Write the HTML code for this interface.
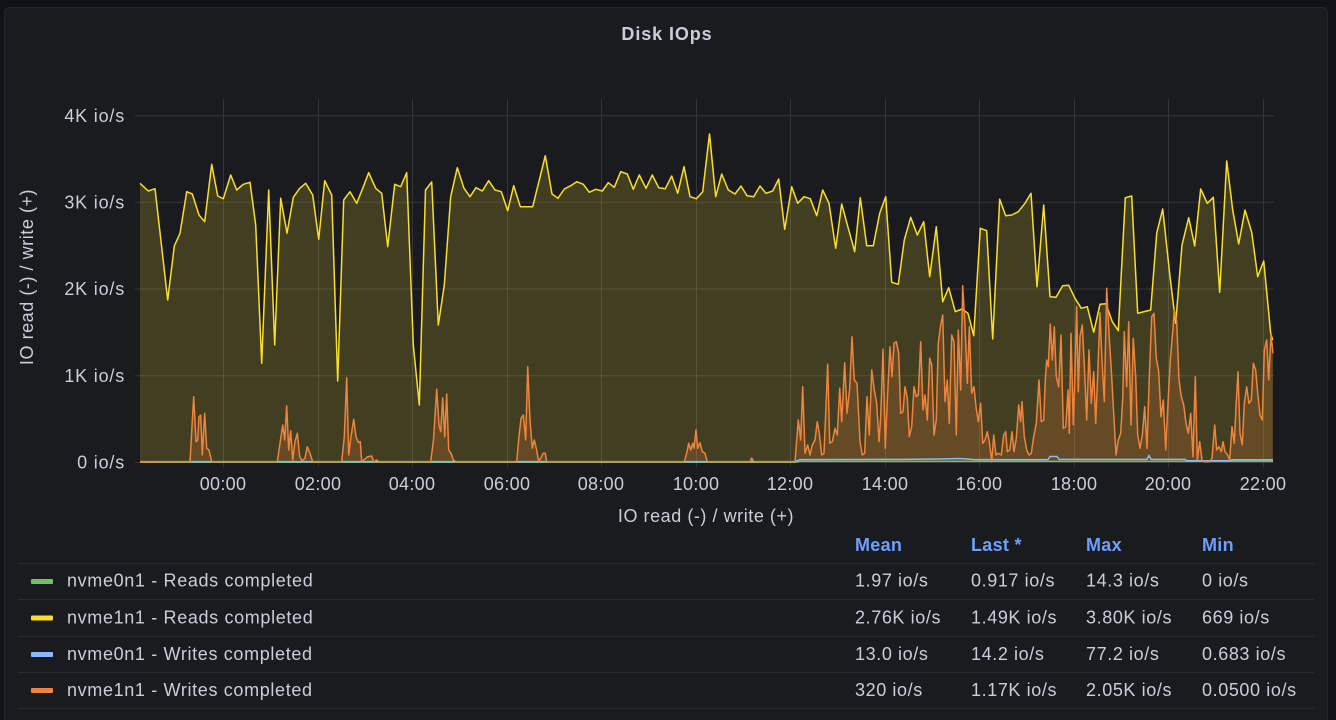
<!DOCTYPE html>
<html><head><meta charset="utf-8"><style>
html,body{margin:0;padding:0;background:#111217;width:1336px;height:720px;overflow:hidden}
svg{display:block}
text{font-family:"Liberation Sans",sans-serif;fill:#ccccdc}
</style></head><body>
<svg width="1336" height="720" viewBox="0 0 1336 720" xmlns="http://www.w3.org/2000/svg">
<rect x="0" y="0" width="1336" height="720" fill="#111217"/>
<rect x="4.5" y="7.5" width="1323" height="730" rx="5" fill="#1a1b1f" stroke="#25262b" stroke-width="1"/>
<text x="667" y="40" text-anchor="middle" font-size="18" font-weight="bold" letter-spacing="0.9">Disk IOps</text>

<!-- grid -->
<g stroke="#35363b" stroke-width="1">
<line x1="135" y1="115.7" x2="1274" y2="115.7"/>
<line x1="135" y1="202.3" x2="1274" y2="202.3"/>
<line x1="135" y1="289" x2="1274" y2="289"/>
<line x1="135" y1="375.8" x2="1274" y2="375.8"/>
<line x1="135" y1="462.5" x2="1274" y2="462.5"/>
<line x1="223.5" y1="99" x2="223.5" y2="467"/>
<line x1="318.5" y1="99" x2="318.5" y2="467"/>
<line x1="412.5" y1="99" x2="412.5" y2="467"/>
<line x1="507.5" y1="99" x2="507.5" y2="467"/>
<line x1="601.5" y1="99" x2="601.5" y2="467"/>
<line x1="696.5" y1="99" x2="696.5" y2="467"/>
<line x1="790.5" y1="99" x2="790.5" y2="467"/>
<line x1="885.5" y1="99" x2="885.5" y2="467"/>
<line x1="979.5" y1="99" x2="979.5" y2="467"/>
<line x1="1074.5" y1="99" x2="1074.5" y2="467"/>
<line x1="1168.5" y1="99" x2="1168.5" y2="467"/>
<line x1="1263.5" y1="99" x2="1263.5" y2="467"/>
</g>

<!-- y tick labels -->
<g font-size="18" text-anchor="end" letter-spacing="0.8">
<text x="125" y="122">4K io/s</text>
<text x="125" y="208.5">3K io/s</text>
<text x="125" y="295">2K io/s</text>
<text x="125" y="382">1K io/s</text>
<text x="125" y="468.5">0 io/s</text>
</g>
<!-- x tick labels -->
<g font-size="18" text-anchor="middle" letter-spacing="0.3">
<text x="223" y="490">00:00</text>
<text x="318" y="490">02:00</text>
<text x="412" y="490">04:00</text>
<text x="507" y="490">06:00</text>
<text x="601" y="490">08:00</text>
<text x="696" y="490">10:00</text>
<text x="790" y="490">12:00</text>
<text x="885" y="490">14:00</text>
<text x="979" y="490">16:00</text>
<text x="1074" y="490">18:00</text>
<text x="1168" y="490">20:00</text>
<text x="1263" y="490">22:00</text>
</g>
<text x="706" y="522" font-size="18" text-anchor="middle" letter-spacing="0.55">IO read (-) / write (+)</text>
<text transform="translate(33,277) rotate(-90)" font-size="18" text-anchor="middle" letter-spacing="0.55">IO read (-) / write (+)</text>

<!-- yellow series -->
<polygon fill="rgba(250,222,42,0.18)" points="140,462 140,183.3 148.3,191 155,188.7 167.7,300 174.3,246 180,233.3 186.7,191.7 192.3,194 199,215 204.7,221.7 211.7,164.3 217.7,196 223.3,198.7 230.7,175 236.7,190 243.3,184.3 250,182.3 255.7,225 261.7,363.3 268.7,190 274.7,345 280.7,198.3 287,233.3 293.3,197.3 299.7,188.3 305.7,183.3 312.7,195 318.7,239.3 324.7,180.7 331.7,195 337.7,381 343.7,200 350,191.7 356.7,203.3 362.7,188.3 368.7,172.7 375.7,188.3 381.7,193.3 387.7,246.7 394.7,184.3 400.7,186.7 406.7,172.7 413.3,345 419.3,405 425.5,190 431.7,182 438.3,325 444.3,285 450.7,196.7 457.3,167.7 464,188.3 470,196.7 476,187.7 482.3,191 488.7,180.7 495,190 501.3,191.7 507.7,210.7 513.7,185.7 520.3,206.7 532.7,206.7 545.3,155.7 552,194 558,198.3 564.3,189 570.7,185.7 576.7,181.7 583.3,184.3 589.3,192.3 595.7,189.3 602.3,191 608.3,182.7 614.3,187.3 620.7,171.7 627.3,174 633.3,189.3 639.3,175 646,188.3 652.3,175 658.7,187.7 665.3,188.7 671.7,176 677.7,193.3 684,166.7 690,196.7 696.3,198.7 702.7,191.7 709.5,134 715.7,196.7 721.7,174 728.3,190 735,194 741,186 747,195.7 753.7,196.7 760,186 766,193.3 772.7,191 778.7,179 784.7,229.3 791.7,186.7 797.7,203.3 804,196.7 810.3,198.7 816.7,215.7 822.7,190 829,203.3 835.7,248.3 841.7,204 848.3,228.3 854.7,251.7 860.3,197.7 866.7,245.7 873.3,245.7 879.7,213.3 885.7,196.7 891.7,282.3 898.3,284.3 904.3,240 910.7,217.3 917.3,235 923.7,221.7 929.7,276.7 936.3,226.7 942.7,301.7 948.7,287.7 955.3,311.7 962,309 968,313.3 973.7,335.7 980.3,228.3 986.7,230.7 992.7,339 999.7,199.3 1005.7,215.7 1011.7,215 1018.3,211.7 1025,203.3 1031,193.3 1037,286.7 1043.7,205 1050,296.7 1056,297.3 1062.7,285.7 1068.7,285.3 1075,298.3 1081.3,308.3 1087.3,306.7 1093.7,332.3 1100,304.3 1106,303.7 1112.3,321.7 1118.3,330.7 1125.3,197.7 1131.7,196 1137.7,313.3 1150.7,310 1156.7,233.3 1162.7,209 1170,276.7 1175.7,323.3 1182,245 1188.7,217.7 1194.7,246 1200.7,189 1207.3,203.3 1213.3,197.3 1219.7,292.3 1226.7,161 1232.7,210 1238.7,244 1245,210 1251.7,232.3 1257.7,276.7 1263.7,261 1270.7,333.3 1272.7,340 1272.7,462"/>

<!-- orange fill -->
<polygon id="ofill" fill="rgba(239,132,60,0.2)" points="140,462 190,461.7 193.7,396.7 196,441.7 197.7,440 199,416.7 200.7,415 202.3,455 204.7,413.3 206.7,448.3 209,450 211.7,461.7 277.3,461.7 280,443.3 282.7,425 284.7,440 286.7,405.7 288.7,450 290.7,430.7 292.7,460 295,441.7 297.3,433.3 299.7,456.7 302.3,460.7 305,458.3 307.3,446.7 310,453.3 312.7,461.7 341.7,461.7 344.3,436.7 346.7,377.7 348.7,455 351,436.7 353.7,419.3 356,436.7 358.3,442.3 360.3,441.7 361.7,461.7 367.7,456.7 371.7,456 373.7,461.7 376.7,460 379,461.7 430.7,461.7 433.5,440 436.7,389.3 439,425 440.7,431.7 442.7,397.7 444.7,436.7 446.7,394 448.7,450 451,453.3 453.3,460 456,461.7 516.7,461.7 519,436.7 521,418.3 523.3,415 525.7,440 527.7,366.7 530,420 532.3,448.3 534.3,440 536.7,450 538.7,461.7 543.3,453.3 545.3,453.3 546.7,461.7 684.3,461.7 686.7,453.3 688.7,443.3 690.7,450 692.7,443.3 694,448.3 696,430 697.7,448.3 700,442.7 702.3,451.7 705,453.3 707.3,461.7 750,461.7 751.7,458 753.5,461.7 795,461.7 798.3,420 800.7,440 802.7,386.7 805,453.3 807.7,445 810,455 812.3,445 815,440 817.3,421.7 819.3,433.3 821.7,455 824,453.3 825.7,413.3 827.7,364.3 829.7,443.3 832.3,441.7 835,428.3 837.3,435 839.7,388.3 841.7,421.7 844.7,362.7 847,413.3 849.7,388.3 852,336.7 854.3,380 857,383.3 860,441.7 862.3,455 864.7,453 867,396.7 869.3,435 871.7,370 874.3,390 876.7,403.3 879,441.7 880.7,416.7 883,349.3 885.3,448.3 887.7,391.7 890,346.7 892,376.7 894,343.3 896.3,341.7 898.7,353.3 900.7,413.3 903,411.7 905,386.7 907.3,398.3 909.3,436.7 911.7,426.7 914,386.7 916.3,396.7 918.3,395 920.7,341.7 923,410 925,395 927.3,420 929.7,358.3 931.7,365 934,435 936.3,420 938.3,343.3 940.7,325 942.7,315 945,401.7 947.3,380 949.3,423.3 951.7,335 954,341.7 956.3,435 958.3,330 960.7,390 962.7,285.7 965,325 967.3,383.3 969.3,326.7 971.7,393.3 974,386.7 976,406.7 978.3,421.7 980.7,403.3 982.7,443.3 985,440 987.3,431.7 989.3,441.7 991.7,461.7 993.7,435 996,455 998.3,453.3 1001.3,455 1003.7,435 1005.7,431.7 1007.3,451.7 1009.7,450 1012,431.7 1014,451.7 1016.3,438.3 1018.7,405 1020.7,421.7 1022,401.7 1024.3,436.7 1026.7,450 1029,455 1031.3,453.3 1033.7,436.7 1036.3,423.3 1039,380 1041.3,421.7 1043.7,420 1045.3,380 1046.7,360 1048.3,366.7 1050.3,324 1052.3,360 1054.3,326.7 1056.3,376.7 1058.7,386.7 1061,335 1063.3,428.3 1065.7,426.7 1068,390 1069.3,433.3 1071,333.3 1073.3,425 1075,371.7 1076.7,306.7 1078.3,391.7 1080,336.7 1082.3,325 1084.7,373.3 1086.7,420 1089,350 1091.3,403.3 1093.7,371.7 1095.7,423.3 1097.7,375 1100,312.7 1102,360 1104.3,401.7 1106.7,288.3 1109,333.3 1111.3,370 1113.7,413.3 1116,455 1118.3,440 1120.7,433.3 1122.7,398.3 1124.3,331.7 1126.7,386.7 1128.7,321.7 1131,425 1133.3,338.3 1135.7,376.7 1137.7,435 1140,448.3 1142.3,435 1144.7,406.7 1147,448.3 1149.3,376.7 1151.7,316.7 1154,313.3 1156.3,358.3 1158.7,371.7 1161,416.7 1163.3,400 1165.7,450 1168,403.3 1170.3,360 1172.7,331.7 1174.3,310 1176.7,321.7 1179,380 1181.3,396.7 1183.7,405 1186,423.3 1188.3,433.3 1190.7,413.3 1193,456.7 1195.3,376.7 1197.3,460 1199.7,441.7 1202,460 1204.3,461.7 1209.3,461.7 1212,458.3 1214.7,425 1216.7,450 1219,446.7 1221.3,451.7 1223,441.7 1225,451.7 1227.7,455 1229.7,460 1232,426.7 1234.3,443.3 1236,406.7 1238,371.7 1240,433.3 1242.3,445 1244.3,403.3 1246.7,386.7 1249,403.3 1251.3,400 1253.3,363.3 1255.7,370 1257.7,393.3 1260,415 1262.3,420 1264.3,350 1266.7,340 1268.7,380 1271,335 1273,353.3 1273,462"/>

<!-- lines -->
<polyline fill="none" stroke="#73BF69" stroke-width="1.5" points="140,462.3 795,462.3 800,461.4 1273,461.4"/>
<polyline fill="none" stroke="#FADE2A" stroke-width="1.5" stroke-linejoin="round" points="140,183.3 148.3,191 155,188.7 167.7,300 174.3,246 180,233.3 186.7,191.7 192.3,194 199,215 204.7,221.7 211.7,164.3 217.7,196 223.3,198.7 230.7,175 236.7,190 243.3,184.3 250,182.3 255.7,225 261.7,363.3 268.7,190 274.7,345 280.7,198.3 287,233.3 293.3,197.3 299.7,188.3 305.7,183.3 312.7,195 318.7,239.3 324.7,180.7 331.7,195 337.7,381 343.7,200 350,191.7 356.7,203.3 362.7,188.3 368.7,172.7 375.7,188.3 381.7,193.3 387.7,246.7 394.7,184.3 400.7,186.7 406.7,172.7 413.3,345 419.3,405 425.5,190 431.7,182 438.3,325 444.3,285 450.7,196.7 457.3,167.7 464,188.3 470,196.7 476,187.7 482.3,191 488.7,180.7 495,190 501.3,191.7 507.7,210.7 513.7,185.7 520.3,206.7 532.7,206.7 545.3,155.7 552,194 558,198.3 564.3,189 570.7,185.7 576.7,181.7 583.3,184.3 589.3,192.3 595.7,189.3 602.3,191 608.3,182.7 614.3,187.3 620.7,171.7 627.3,174 633.3,189.3 639.3,175 646,188.3 652.3,175 658.7,187.7 665.3,188.7 671.7,176 677.7,193.3 684,166.7 690,196.7 696.3,198.7 702.7,191.7 709.5,134 715.7,196.7 721.7,174 728.3,190 735,194 741,186 747,195.7 753.7,196.7 760,186 766,193.3 772.7,191 778.7,179 784.7,229.3 791.7,186.7 797.7,203.3 804,196.7 810.3,198.7 816.7,215.7 822.7,190 829,203.3 835.7,248.3 841.7,204 848.3,228.3 854.7,251.7 860.3,197.7 866.7,245.7 873.3,245.7 879.7,213.3 885.7,196.7 891.7,282.3 898.3,284.3 904.3,240 910.7,217.3 917.3,235 923.7,221.7 929.7,276.7 936.3,226.7 942.7,301.7 948.7,287.7 955.3,311.7 962,309 968,313.3 973.7,335.7 980.3,228.3 986.7,230.7 992.7,339 999.7,199.3 1005.7,215.7 1011.7,215 1018.3,211.7 1025,203.3 1031,193.3 1037,286.7 1043.7,205 1050,296.7 1056,297.3 1062.7,285.7 1068.7,285.3 1075,298.3 1081.3,308.3 1087.3,306.7 1093.7,332.3 1100,304.3 1106,303.7 1112.3,321.7 1118.3,330.7 1125.3,197.7 1131.7,196 1137.7,313.3 1150.7,310 1156.7,233.3 1162.7,209 1170,276.7 1175.7,323.3 1182,245 1188.7,217.7 1194.7,246 1200.7,189 1207.3,203.3 1213.3,197.3 1219.7,292.3 1226.7,161 1232.7,210 1238.7,244 1245,210 1251.7,232.3 1257.7,276.7 1263.7,261 1270.7,333.3 1272.7,340"/>
<polyline fill="none" stroke="#8AB8FF" stroke-width="1.5" points="140,461.6 795,461.6 800,459.6 900,459.4 940,459 960,458.5 975,459.6 1048,459.6 1050,456.5 1057,456.5 1059,459.4 1147,459.4 1149,455.5 1151,459.4 1185,459.4 1187,460.8 1230,460.8 1232,459.8 1273,459.8"/>
<polyline fill="none" stroke="#EF843C" stroke-width="1.5" stroke-linejoin="round" points="140,462 190,461.7 193.7,396.7 196,441.7 197.7,440 199,416.7 200.7,415 202.3,455 204.7,413.3 206.7,448.3 209,450 211.7,461.7 277.3,461.7 280,443.3 282.7,425 284.7,440 286.7,405.7 288.7,450 290.7,430.7 292.7,460 295,441.7 297.3,433.3 299.7,456.7 302.3,460.7 305,458.3 307.3,446.7 310,453.3 312.7,461.7 341.7,461.7 344.3,436.7 346.7,377.7 348.7,455 351,436.7 353.7,419.3 356,436.7 358.3,442.3 360.3,441.7 361.7,461.7 367.7,456.7 371.7,456 373.7,461.7 376.7,460 379,461.7 430.7,461.7 433.5,440 436.7,389.3 439,425 440.7,431.7 442.7,397.7 444.7,436.7 446.7,394 448.7,450 451,453.3 453.3,460 456,461.7 516.7,461.7 519,436.7 521,418.3 523.3,415 525.7,440 527.7,366.7 530,420 532.3,448.3 534.3,440 536.7,450 538.7,461.7 543.3,453.3 545.3,453.3 546.7,461.7 684.3,461.7 686.7,453.3 688.7,443.3 690.7,450 692.7,443.3 694,448.3 696,430 697.7,448.3 700,442.7 702.3,451.7 705,453.3 707.3,461.7 750,461.7 751.7,458 753.5,461.7 795,461.7 798.3,420 800.7,440 802.7,386.7 805,453.3 807.7,445 810,455 812.3,445 815,440 817.3,421.7 819.3,433.3 821.7,455 824,453.3 825.7,413.3 827.7,364.3 829.7,443.3 832.3,441.7 835,428.3 837.3,435 839.7,388.3 841.7,421.7 844.7,362.7 847,413.3 849.7,388.3 852,336.7 854.3,380 857,383.3 860,441.7 862.3,455 864.7,453 867,396.7 869.3,435 871.7,370 874.3,390 876.7,403.3 879,441.7 880.7,416.7 883,349.3 885.3,448.3 887.7,391.7 890,346.7 892,376.7 894,343.3 896.3,341.7 898.7,353.3 900.7,413.3 903,411.7 905,386.7 907.3,398.3 909.3,436.7 911.7,426.7 914,386.7 916.3,396.7 918.3,395 920.7,341.7 923,410 925,395 927.3,420 929.7,358.3 931.7,365 934,435 936.3,420 938.3,343.3 940.7,325 942.7,315 945,401.7 947.3,380 949.3,423.3 951.7,335 954,341.7 956.3,435 958.3,330 960.7,390 962.7,285.7 965,325 967.3,383.3 969.3,326.7 971.7,393.3 974,386.7 976,406.7 978.3,421.7 980.7,403.3 982.7,443.3 985,440 987.3,431.7 989.3,441.7 991.7,461.7 993.7,435 996,455 998.3,453.3 1001.3,455 1003.7,435 1005.7,431.7 1007.3,451.7 1009.7,450 1012,431.7 1014,451.7 1016.3,438.3 1018.7,405 1020.7,421.7 1022,401.7 1024.3,436.7 1026.7,450 1029,455 1031.3,453.3 1033.7,436.7 1036.3,423.3 1039,380 1041.3,421.7 1043.7,420 1045.3,380 1046.7,360 1048.3,366.7 1050.3,324 1052.3,360 1054.3,326.7 1056.3,376.7 1058.7,386.7 1061,335 1063.3,428.3 1065.7,426.7 1068,390 1069.3,433.3 1071,333.3 1073.3,425 1075,371.7 1076.7,306.7 1078.3,391.7 1080,336.7 1082.3,325 1084.7,373.3 1086.7,420 1089,350 1091.3,403.3 1093.7,371.7 1095.7,423.3 1097.7,375 1100,312.7 1102,360 1104.3,401.7 1106.7,288.3 1109,333.3 1111.3,370 1113.7,413.3 1116,455 1118.3,440 1120.7,433.3 1122.7,398.3 1124.3,331.7 1126.7,386.7 1128.7,321.7 1131,425 1133.3,338.3 1135.7,376.7 1137.7,435 1140,448.3 1142.3,435 1144.7,406.7 1147,448.3 1149.3,376.7 1151.7,316.7 1154,313.3 1156.3,358.3 1158.7,371.7 1161,416.7 1163.3,400 1165.7,450 1168,403.3 1170.3,360 1172.7,331.7 1174.3,310 1176.7,321.7 1179,380 1181.3,396.7 1183.7,405 1186,423.3 1188.3,433.3 1190.7,413.3 1193,456.7 1195.3,376.7 1197.3,460 1199.7,441.7 1202,460 1204.3,461.7 1209.3,461.7 1212,458.3 1214.7,425 1216.7,450 1219,446.7 1221.3,451.7 1223,441.7 1225,451.7 1227.7,455 1229.7,460 1232,426.7 1234.3,443.3 1236,406.7 1238,371.7 1240,433.3 1242.3,445 1244.3,403.3 1246.7,386.7 1249,403.3 1251.3,400 1253.3,363.3 1255.7,370 1257.7,393.3 1260,415 1262.3,420 1264.3,350 1266.7,340 1268.7,380 1271,335 1273,353.3"/>

<!-- legend -->
<g stroke="#2a2b30" stroke-width="1">
<line x1="18" y1="563.5" x2="1314" y2="563.5"/>
<line x1="18" y1="599.5" x2="1314" y2="599.5"/>
<line x1="18" y1="636.5" x2="1314" y2="636.5"/>
<line x1="18" y1="672.5" x2="1314" y2="672.5"/>
<line x1="18" y1="708.5" x2="1314" y2="708.5"/>
</g>
<g font-size="18" font-weight="bold" letter-spacing="0.3">
<text x="855" y="551" style="fill:#6e9fff">Mean</text>
<text x="971" y="551" style="fill:#6e9fff">Last *</text>
<text x="1086" y="551" style="fill:#6e9fff">Max</text>
<text x="1202" y="551" style="fill:#6e9fff">Min</text>
</g>
<rect x="31" y="579" width="22" height="5" rx="1" fill="#73BF69"/>
<rect x="31" y="615.5" width="22" height="5" rx="1" fill="#FADE2A"/>
<rect x="31" y="652" width="22" height="5" rx="1" fill="#8AB8FF"/>
<rect x="31" y="688" width="22" height="5" rx="1" fill="#EF843C"/>
<g font-size="18" letter-spacing="0.65">
<text x="67" y="586.7">nvme0n1 - Reads completed</text>
<text x="67" y="623.3">nvme1n1 - Reads completed</text>
<text x="67" y="660">nvme0n1 - Writes completed</text>
<text x="67" y="696">nvme1n1 - Writes completed</text>
</g>
<g font-size="18" letter-spacing="0.6">
<text x="855" y="586.7">1.97 io/s</text>
<text x="971" y="586.7">0.917 io/s</text>
<text x="1086" y="586.7">14.3 io/s</text>
<text x="1202" y="586.7">0 io/s</text>
<text x="855" y="623.3">2.76K io/s</text>
<text x="971" y="623.3">1.49K io/s</text>
<text x="1086" y="623.3">3.80K io/s</text>
<text x="1202" y="623.3">669 io/s</text>
<text x="855" y="660">13.0 io/s</text>
<text x="971" y="660">14.2 io/s</text>
<text x="1086" y="660">77.2 io/s</text>
<text x="1202" y="660">0.683 io/s</text>
<text x="855" y="696">320 io/s</text>
<text x="971" y="696">1.17K io/s</text>
<text x="1086" y="696">2.05K io/s</text>
<text x="1202" y="696">0.0500 io/s</text>
</g>
</svg>
</body></html>
